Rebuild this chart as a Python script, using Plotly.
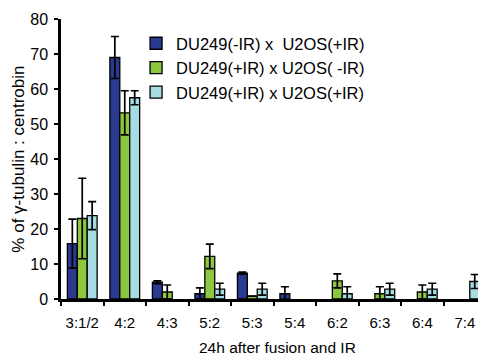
import plotly.graph_objects as go

categories = ["3:1/2", "4:2", "4:3", "5:2", "5:3", "5:4", "6:2", "6:3", "6:4", "7:4"]
series_names = ["DU249(-IR) x\u00a0\u00a0U2OS(+IR)", "DU249(+IR) x U2OS(\u00a0-IR)", "DU249(+IR) x U2OS(+IR)"]
blue_vals = [15.8, 69.0, 4.8, 1.5, 7.4, 1.5, None, None, None, None]
blue_err = [7.0, 6.0, 0.4, 1.7, 0.3, 2.0, None, None, None, None]
green_vals = [23.0, 53.2, 2.0, 12.2, 0.8, None, 5.2, 1.5, 2.0, None]
green_err = [11.5, 6.3, 2.0, 3.5, 0, None, 2.0, 2.0, 2.0, None]
cyan_vals = [23.8, 57.5, None, 2.8, 2.8, None, 1.5, 2.8, 2.8, 5.0]
cyan_err = [4.0, 2.0, None, 1.7, 1.7, None, 2.0, 1.7, 1.7, 2.0]
colors = ["#2B3990", "#8DC63F", "#A6DDE2"]
y_ticks = [0, 10, 20, 30, 40, 50, 60, 70, 80]

fig = go.Figure()
for name, vals, errs, col in zip(series_names, [blue_vals, green_vals, cyan_vals],
                                 [blue_err, green_err, cyan_err], colors):
    fig.add_trace(go.Bar(
        x=categories, y=vals, name=name,
        marker=dict(color=col, line=dict(color="black", width=1.3)),
        error_y=dict(type="data", array=errs, symmetric=True, visible=True,
                     color="black", thickness=1.7, width=4),
    ))

font_family = "Liberation Sans, Arial, sans-serif"
fig.update_layout(
    width=478, height=355,
    margin=dict(l=61, r=0, t=19, b=56, autoexpand=False),
    paper_bgcolor="white", plot_bgcolor="white",
    barmode="group", bargap=0.3, bargroupgap=0,
    font=dict(family=font_family, size=15, color="black"),
    showlegend=True,
    legend=dict(x=0.18, y=0.975, xanchor="left", yanchor="top",
                font=dict(size=16.5), bgcolor="rgba(0,0,0,0)",
                itemwidth=30, tracegroupgap=0),
    xaxis=dict(type="category", range=[-0.5, 9.31], showline=True, linecolor="black",
               linewidth=2.5, ticks="outside", tickson="boundaries", ticklen=4,
               tickwidth=2, tickcolor="black", showgrid=False, automargin=False,
               tickangle=0, tickfont=dict(size=15), ticklabelstandoff=8),
    yaxis=dict(range=[0, 80], tickvals=y_ticks, showline=True, linecolor="black",
               linewidth=2.5, ticks="outside", ticklen=4, tickwidth=2,
               tickcolor="black", showgrid=False, zeroline=False, automargin=False,
               tickfont=dict(size=16), ticklabelstandoff=3),
    annotations=[
        dict(text="% of \u03b3-tubulin : centrobin", xref="paper", yref="paper",
             x=-0.104, y=0.5, textangle=-90, showarrow=False,
             xanchor="center", yanchor="middle", font=dict(size=17)),
        dict(text="24h after fusion and IR", xref="paper", yref="paper",
             x=0.518, y=-0.172, showarrow=False, xanchor="center",
             yanchor="middle", font=dict(size=15.5)),
    ],
)

fig.write_html(
    "out.html",
    config={"displayModeBar": False},
    post_script="document.body.style.margin='0';document.body.style.overflow='hidden';"
                "document.documentElement.style.overflow='hidden';",
)
